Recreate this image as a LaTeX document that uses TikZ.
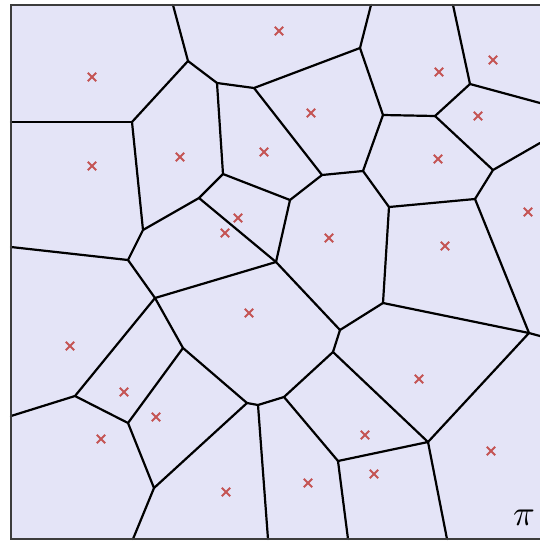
\documentclass[tikz,border=0pt]{standalone}
\usepackage{graphicx}
\usetikzlibrary{shapes.misc}
\definecolor{cellfill}{RGB}{228,228,247}
\definecolor{sitecol}{RGB}{196,84,84}
\definecolor{framecol}{RGB}{60,60,60}
\tikzset{
  edge/.style={line width=2.2pt, black, line cap=round, line join=round},
  site/.style={cross out, draw=sitecol, line width=1.8pt, minimum size=6.5pt, inner sep=0pt},
}
\begin{document}
\begin{tikzpicture}[x=1pt,y=-1pt]
\useasboundingbox (0,0) rectangle (540,542);
\fill[white] (0,0) rectangle (540,542);
\fill[cellfill] (11,5) rectangle (540,539);
% vertices
\coordinate (A) at (188,61);
\coordinate (B) at (132,122);
\coordinate (C) at (217,83);
\coordinate (D) at (254,88);
\coordinate (E) at (223,174);
\coordinate (F) at (199,198);
\coordinate (G) at (143,230);
\coordinate (H) at (128,260);
\coordinate (I) at (360,48);
\coordinate (J) at (383,115);
\coordinate (K) at (435,116);
\coordinate (L) at (470,84);
\coordinate (M) at (493,170);
\coordinate (N) at (475,199);
\coordinate (O) at (389,207);
\coordinate (P) at (363,171);
\coordinate (Q) at (322,175);
\coordinate (R) at (290,200);
\coordinate (S) at (276,262);
\coordinate (T) at (155,298);
\coordinate (U) at (75,396);
\coordinate (V) at (183,348);
\coordinate (W) at (247,403);
\coordinate (X) at (128,423);
\coordinate (Y) at (154,488);
\coordinate (Z) at (258,405);
\coordinate (AA) at (340,330);
\coordinate (BB) at (383,303);
\coordinate (CC) at (529,333);
\coordinate (DD) at (333,352);
\coordinate (EE) at (284,397);
\coordinate (FF) at (428,442);
\coordinate (GG) at (338,461);
% boundary ends
\coordinate (tA) at (173,5);
\coordinate (tI) at (371,5);
\coordinate (tL) at (453,5);
\coordinate (lB) at (11,122);
\coordinate (lH) at (11,247);
\coordinate (lU) at (11,416);
\coordinate (rL) at (540,103);
\coordinate (rM) at (540,143);
\coordinate (rC) at (540,336);
\coordinate (bY) at (133,539);
\coordinate (bZ) at (268,539);
\coordinate (bG) at (348,539);
\coordinate (bF) at (447,539);
% edges
\draw[edge] (tA) -- (A) -- (B) -- (G) -- (H) -- (T) -- (S);
\draw[edge] (A) -- (C) -- (D) -- (I) -- (tI);
\draw[edge] (C) -- (E) -- (R) -- (Q) -- (P) -- (J) -- (I);
\draw[edge] (D) -- (Q);
\draw[edge] (J) -- (K) -- (L) -- (tL);
\draw[edge] (L) -- (rL);
\draw[edge] (K) -- (M) -- (rM);
\draw[edge] (M) -- (N) -- (O) -- (P);
\draw[edge] (O) -- (BB) -- (AA) -- (S) -- (R);
\draw[edge] (E) -- (F) -- (G);
\draw[edge] (F) -- (S);
\draw[edge] (B) -- (lB);
\draw[edge] (H) -- (lH);
\draw[edge] (N) -- (CC) -- (rC);
\draw[edge] (BB) -- (CC) -- (FF) -- (bF);
\draw[edge] (T) -- (U) -- (lU);
\draw[edge] (T) -- (V) -- (W) -- (Y) -- (X) -- (U);
\draw[edge] (X) -- (V);
\draw[edge] (Y) -- (bY);
\draw[edge] (W) -- (Z) -- (bZ);
\draw[edge] (Z) -- (EE) -- (DD) -- (AA);
\draw[edge] (DD) -- (FF) -- (GG) -- (EE);
\draw[edge] (GG) -- (bG);
% frame
\draw[framecol, line width=2.6pt, line cap=rect] (540,5) -- (11,5) -- (11,539) -- (540,539);
% sites
\foreach \p [count=\i] in {(92,77),(279,31),(439,72),(493,60),(311,113),(478,116),(92,166),(180,157),(264,152),(438,159),(238,218),(225,233),(329,238),(445,246),(528,212),(249,313),(70,346),(124,392),(156,417),(101,439),(419,379),(365,435),(226,492),(308,483),(374,474),(491,451)}
  \node[site] (s\i) at \p {};
% label
\node[inner sep=0pt] (pi) at (524,518) {\scalebox{3.6}{$\pi$}};
\end{tikzpicture}
\end{document}
